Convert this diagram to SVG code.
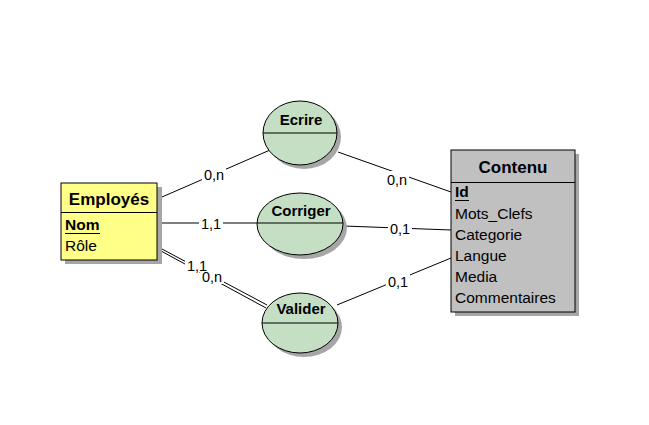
<svg xmlns="http://www.w3.org/2000/svg" width="649" height="425" viewBox="0 0 649 425">
<style>
.t{font-family:"Liberation Sans",Arial,sans-serif;fill:#000}
.title{font-size:17px;font-weight:bold}
.attr{font-size:15.5px}
.rel{font-size:15px;font-weight:bold}
.lbl{font-size:14.5px}
.ln{stroke:#000;stroke-width:1;fill:none}
.sh{fill:#a6a6a6}
.ell{fill:#c4dfc4;stroke:#000;stroke-width:1}
.bg{fill:#fff}
</style>
<rect width="649" height="425" fill="#fff"/>
<g id="connectors">
  <line class="ln" x1="162" y1="197" x2="270" y2="150"/>
  <line class="ln" x1="338" y1="152" x2="451" y2="192"/>
  <line class="ln" x1="162" y1="223" x2="257" y2="223"/>
  <line class="ln" x1="344" y1="226" x2="451" y2="230"/>
  <line class="ln" x1="162" y1="249" x2="267" y2="305"/>
  <line class="ln" x1="161" y1="251" x2="266" y2="308"/>
  <line class="ln" x1="337" y1="305" x2="451" y2="258"/>
  <rect class="bg" x="202" y="166" width="24" height="16"/>
  <text class="t lbl" x="214" y="180" text-anchor="middle">0,n</text>
  <rect class="bg" x="385" y="171" width="24" height="16"/>
  <text class="t lbl" x="397" y="185" text-anchor="middle">0,n</text>
  <rect class="bg" x="199" y="215" width="24" height="16"/>
  <text class="t lbl" x="211" y="229" text-anchor="middle">1,1</text>
  <rect class="bg" x="388" y="220" width="24" height="16"/>
  <text class="t lbl" x="400" y="234" text-anchor="middle">0,1</text>
  <rect class="bg" x="386" y="273" width="24" height="16"/>
  <text class="t lbl" x="398" y="287" text-anchor="middle">0,1</text>
  <rect class="bg" x="200" y="268" width="24" height="16"/>
  <text class="t lbl" x="212" y="282" text-anchor="middle">0,n</text>
  <rect class="bg" x="185" y="258" width="24" height="14"/>
  <text class="t lbl" x="197" y="271" text-anchor="middle">1,1</text>
</g>
<g id="employes">
  <rect class="sh" x="65" y="187" width="97" height="77"/>
  <rect x="61" y="183" width="96" height="77" fill="#ffff88" stroke="#000"/>
  <line class="ln" x1="61" y1="212.5" x2="157" y2="212.5"/>
  <text class="t title" x="109" y="205" text-anchor="middle">Employés</text>
  <text class="t attr" x="65" y="230" font-weight="bold">Nom</text>
  <line class="ln" x1="65" y1="233.5" x2="100" y2="233.5"/>
  <text class="t attr" x="65" y="251">Rôle</text>
</g>
<g id="contenu">
  <rect class="sh" x="455" y="154" width="124" height="162"/>
  <rect x="451" y="150" width="124" height="162" fill="#c0c0c0" stroke="#000"/>
  <line class="ln" x1="451" y1="182.5" x2="575" y2="182.5"/>
  <text class="t title" x="513" y="173" text-anchor="middle">Contenu</text>
  <text class="t attr" x="455" y="197" font-weight="bold">Id</text>
  <line class="ln" x1="455" y1="200.5" x2="469" y2="200.5"/>
  <text class="t attr" x="455" y="219">Mots_Clefs</text>
  <text class="t attr" x="455" y="240">Categorie</text>
  <text class="t attr" x="455" y="261">Langue</text>
  <text class="t attr" x="455" y="282">Media</text>
  <text class="t attr" x="455" y="303">Commentaires</text>
</g>
<g id="ecrire">
  <ellipse class="sh" cx="304" cy="137" rx="37" ry="32"/>
  <ellipse class="ell" cx="300" cy="133" rx="37" ry="32"/>
  <line class="ln" x1="263" y1="133" x2="337" y2="133"/>
  <text class="t rel" x="301" y="125" text-anchor="middle">Ecrire</text>
</g>
<g id="corriger">
  <ellipse class="sh" cx="304" cy="228" rx="43" ry="31"/>
  <ellipse class="ell" cx="300" cy="224" rx="43" ry="31"/>
  <line class="ln" x1="257" y1="223" x2="343" y2="223"/>
  <text class="t rel" x="301" y="216" text-anchor="middle">Corriger</text>
</g>
<g id="valider">
  <ellipse class="sh" cx="304" cy="327" rx="38" ry="30"/>
  <ellipse class="ell" cx="300" cy="323" rx="38" ry="30"/>
  <line class="ln" x1="262" y1="323" x2="338" y2="323"/>
  <text class="t rel" x="301" y="314" text-anchor="middle">Valider</text>
</g>
</svg>
